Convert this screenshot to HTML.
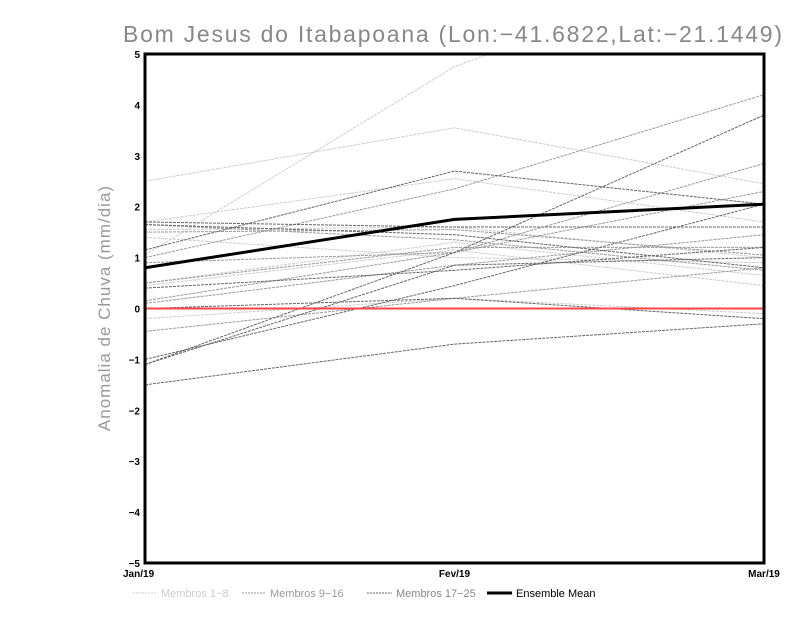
<!DOCTYPE html>
<html><head><meta charset="utf-8"><style>
body{margin:0;background:#fff;}
svg{display:block;font-family:"Liberation Sans",sans-serif;}
</style></head><body>
<svg id="chart" width="800" height="618" viewBox="0 0 800 618">
<text x="123" y="42" font-size="23" fill="#888" textLength="659" lengthAdjust="spacing">Bom Jesus do Itabapoana (Lon:−41.6822,Lat:−21.1449)</text>
<text transform="translate(110,308) rotate(-90)" text-anchor="middle" font-size="17" fill="#999" letter-spacing="1">Anomalia de Chuva (mm/dia)</text>
<defs><clipPath id="clip"><rect x="145" y="54" width="619" height="509"/></clipPath></defs>
<g id="series" clip-path="url(#clip)"></g>
<rect x="145" y="54" width="619" height="509" fill="none" stroke="#000" stroke-width="3"/>
<g id="axes"></g>
<g font-size="11">
<line x1="133" y1="593" x2="157" y2="593" stroke="#ccc" stroke-dasharray="2,1"/><text x="161" y="597" fill="#ccc">Membros 1−8</text>
<line x1="242" y1="593" x2="266" y2="593" stroke="#999" stroke-dasharray="2,1"/><text x="270" y="597" fill="#999">Membros 9−16</text>
<line x1="367" y1="593" x2="392" y2="593" stroke="#666" stroke-dasharray="2,1"/><text x="396" y="597" fill="#888">Membros 17−25</text>
<line x1="487" y1="593" x2="512" y2="593" stroke="#000" stroke-width="3"/><text x="516" y="597" fill="#000">Ensemble Mean</text>
</g>
</svg>
<script>
const categories=["Jan/19","Fev/19","Mar/19"];
const yTicks=[-5,-4,-3,-2,-1,0,1,2,3,4,5];
const group1=[[1.05,4.75,7],[2.5,3.55,2.45],[1.7,2.55,1.7],[1.55,1.6,1.0],[0.5,1.3,0.65],[0.45,1.15,0.45],[1.4,1.0,0.9],[-0.2,0.2,-0.1]];
const group2=[[1.0,2.35,4.2],[0.15,1.1,2.85],[1.65,1.35,0.75],[0.9,1.1,2.3],[0.1,0.85,1.45],[0.5,1.2,1.2],[-0.45,0.2,0.8],[1.5,1.55,1.05]];
const group3=[[1.15,2.7,2.05],[-1.1,1.1,3.8],[-1.0,0.45,2.05],[-1.1,0.85,1.0],[1.65,1.45,0.8],[1.7,1.6,1.6],[0.4,0.75,1.2],[-1.5,-0.7,-0.3],[0.0,0.2,-0.2]];
const ensembleMean=[0.8,1.75,2.05];
const NS="http://www.w3.org/2000/svg";
const X0=145,X1=764,Y0=563,Y1=54;
function xs(i){return X0+(X1-X0)*i/(categories.length-1);}
function ys(v){return Y0-(v+5)/10*(Y0-Y1);}
const g=document.getElementById('series'),ax=document.getElementById('axes');
function line(vals,color,w,dash,name){
 const p=document.createElementNS(NS,'polyline');
 p.setAttribute('points',vals.map((v,i)=>xs(i)+','+ys(v)).join(' '));
 p.setAttribute('fill','none');p.setAttribute('stroke',color);p.setAttribute('stroke-width',w);
 if(dash)p.setAttribute('stroke-dasharray',dash);
 
 
 g.appendChild(p);
}
group1.forEach((s,i)=>line(s,'#ccc',1,'3,1','member-'+(i+1)));
group2.forEach((s,i)=>line(s,'#999',1,'3,1','member-'+(i+9)));
group3.forEach((s,i)=>line(s,'#666',1,'3,1','member-'+(i+17)));
const z=document.createElementNS(NS,'line');
z.setAttribute('x1',X0);z.setAttribute('x2',X1);z.setAttribute('y1',ys(0));z.setAttribute('y2',ys(0));
z.setAttribute('stroke','#f44');z.setAttribute('stroke-width',2);


g.appendChild(z);
line(ensembleMean,'#000',3,null,'ensemble-mean-line');
yTicks.forEach(v=>{
 const t=document.createElementNS(NS,'text');
 t.setAttribute('x',X0-5);t.setAttribute('y',ys(v)+4);t.setAttribute('text-anchor','end');
 t.setAttribute('font-size','10');t.setAttribute('font-weight','bold');t.textContent=v<0?'−'+(-v):v;
 
 
 ax.appendChild(t);
});
categories.forEach((c,i)=>{
 const t=document.createElementNS(NS,'text');
 t.setAttribute('x',i==0?xs(i)-22:xs(i));t.setAttribute('y',Y0+14);
 t.setAttribute('text-anchor',i==0?'start':'middle');
 t.setAttribute('font-size','10');t.setAttribute('font-weight','bold');t.textContent=c;
 
 
 ax.appendChild(t);
});
</script>
</body></html>
